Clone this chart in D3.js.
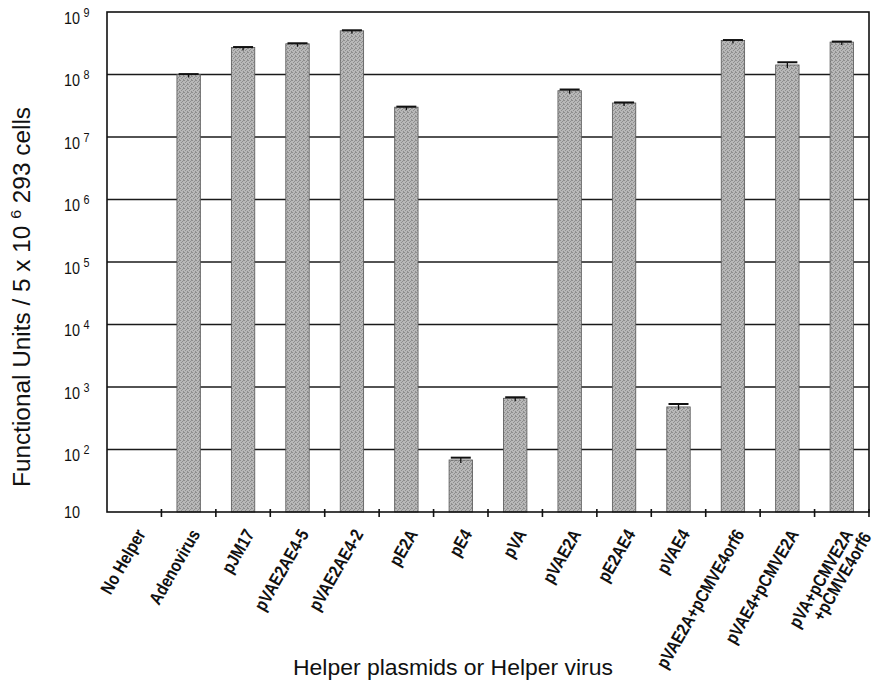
<!DOCTYPE html>
<html>
<head>
<meta charset="utf-8">
<script src="https://cdn.jsdelivr.net/npm/d3@7"></script>
<style>
  html, body { margin: 0; padding: 0; background: #fff; }
  svg { display: block; }
</style>
</head>
<body>
<svg id="chart" width="878" height="688"></svg>
<script>
// ---- data ----
const categories = [
  "No Helper", "Adenovirus", "pJM17", "pVAE2AE4-5", "pVAE2AE4-2", "pE2A", "pE4",
  "pVA", "pVAE2A", "pE2AE4", "pVAE4", "pVAE2A+pCMVE4orf6", "pVAE4+pCMVE2A",
  "pVA+pCMVE2A\n+pCMVE4orf6"
];
const values = [10, 1.0e8, 2.7e8, 3.1e8, 5.0e8, 3.0e7, 68, 660, 5.5e7, 3.5e7, 480, 3.5e8, 1.42e8, 3.3e8];
const errors = [0, 1.5e6, 5e6, 6e6, 1e7, 6e5, 6, 25, 2.5e6, 7e5, 55, 6e6, 1.5e7, 6e6];
const tickExponents = [1, 2, 3, 4, 5, 6, 7, 8, 9];

// ---- layout ----
const svg = d3.select("#chart");
const mLeft = 107, mRight = 869, mTop = 12, mBottom = 512;

const x = d3.scaleBand().domain(categories).range([mLeft, mRight]).paddingInner(0.57).paddingOuter(0.285);
const y = d3.scaleLog().domain([10, 1e9]).range([mBottom, mTop]);
const step = x.step();

const fontFam = "'Liberation Sans', Arial, sans-serif";

// stipple-like fill
const defs = svg.append("defs");
const pat = defs.append("pattern").attr("id", "stip").attr("patternUnits", "userSpaceOnUse")
  .attr("width", 4).attr("height", 4);
pat.append("rect").attr("width", 4).attr("height", 4).attr("fill", "#b8b8b8");
[[0,0],[2,1],[1,2],[3,3],[3,0]].forEach(([px, py]) =>
  pat.append("rect").attr("x", px).attr("y", py).attr("width", 1).attr("height", 1).attr("fill", "#8e8e8e"));

// gridlines (behind bars)
svg.append("g").selectAll("line")
  .data(tickExponents.filter(e => e > 1 && e < 9))
  .join("line")
  .attr("x1", mLeft).attr("x2", mRight)
  .attr("y1", e => y(Math.pow(10, e))).attr("y2", e => y(Math.pow(10, e)))
  .attr("stroke", "#1a1a1a").attr("stroke-width", 1.6);

// bars
svg.append("g").selectAll("rect")
  .data(categories.map((c, i) => ({c, v: values[i], e: errors[i]})))
  .join("rect")
  .attr("x", d => x(d.c))
  .attr("width", x.bandwidth())
  .attr("y", d => y(d.v))
  .attr("height", d => mBottom - y(d.v))
  .attr("fill", "url(#stip)")
  .attr("stroke", "#555")
  .attr("stroke-width", d => d.v > 10 ? 0.8 : 0);

// error bars
const eg = svg.append("g").attr("stroke", "#111").attr("stroke-width", 2);
categories.forEach((c, i) => {
  if (values[i] <= 10) return;
  const cx = x(c) + x.bandwidth() / 2;
  const y0 = y(values[i]), y1 = y(values[i] + errors[i]);
  eg.append("line").attr("x1", cx).attr("x2", cx).attr("y1", y0 + 3).attr("y2", y1).attr("stroke-width", 1.3);
  eg.append("line").attr("x1", cx - 10).attr("x2", cx + 10).attr("y1", y1).attr("y2", y1);
});

// frame
svg.append("rect").attr("x", mLeft).attr("y", mTop).attr("width", mRight - mLeft).attr("height", mBottom - mTop)
  .attr("fill", "none").attr("stroke", "#111").attr("stroke-width", 1.6);

// x ticks at category boundaries
const boundaries = d3.range(1, categories.length + 1).map(k => mLeft + k * step);
svg.append("g").selectAll("line").data(boundaries).join("line")
  .attr("x1", d => d).attr("x2", d => d).attr("y1", mBottom - 3).attr("y2", mBottom + 5)
  .attr("stroke", "#111").attr("stroke-width", 1.6);

// y tick labels
const yl = svg.append("g").attr("font-family", fontFam).attr("fill", "#111");
tickExponents.forEach(e => {
  const yy = y(Math.pow(10, e));
  if (e === 1) {
    yl.append("text").attr("x", 64).attr("y", yy + 6).attr("font-size", 16)
      .attr("transform", `translate(64,0) scale(0.9,1) translate(-64,0)`).text("10");
  } else {
    const t = yl.append("text").attr("x", 64).attr("y", yy + 12).attr("font-size", 16)
      .attr("transform", `translate(64,0) scale(0.9,1) translate(-64,0)`);
    t.append("tspan").text("10");
    t.append("tspan").attr("dx", 4).attr("dy", -7).attr("font-size", 12).text(String(e));
  }
});

// x tick labels (rotated)
const xl = svg.append("g").attr("font-family", fontFam).attr("font-weight", "bold").attr("fill", "#111");
categories.forEach(c => {
  const cx = x(c) + x.bandwidth() / 2;
  const lines = c.split("\n");
  const t = xl.append("text")
    .attr("transform", `translate(${cx + 12},${534}) rotate(-60) scale(0.84,1)`)
    .attr("text-anchor", "end").attr("font-size", 18);
  lines.forEach((ln, j) => {
    t.append("tspan").attr("x", j === 0 ? 0 : 8).attr("dy", j === 0 ? 0 : "0.95em").text(ln);
  });
});

// axis titles
svg.append("text")
  .attr("transform", `translate(30,297) rotate(-90)`)
  .attr("text-anchor", "middle").attr("font-family", fontFam).attr("font-size", 23).attr("fill", "#111")
  .attr("textLength", 380).attr("lengthAdjust", "spacingAndGlyphs")
  .call(t => {
    t.append("tspan").text("Functional Units / 5 x 10 ");
    t.append("tspan").attr("dy", -9).attr("font-size", 15).text("6");
    t.append("tspan").attr("dy", 9).text(" 293 cells");
  });

svg.append("text")
  .attr("x", 453).attr("y", 675).attr("text-anchor", "middle")
  .attr("font-family", fontFam).attr("font-size", 22).attr("fill", "#111")
  .attr("textLength", 320).attr("lengthAdjust", "spacingAndGlyphs")
  .text("Helper plasmids or Helper virus");
</script>
</body>
</html>
